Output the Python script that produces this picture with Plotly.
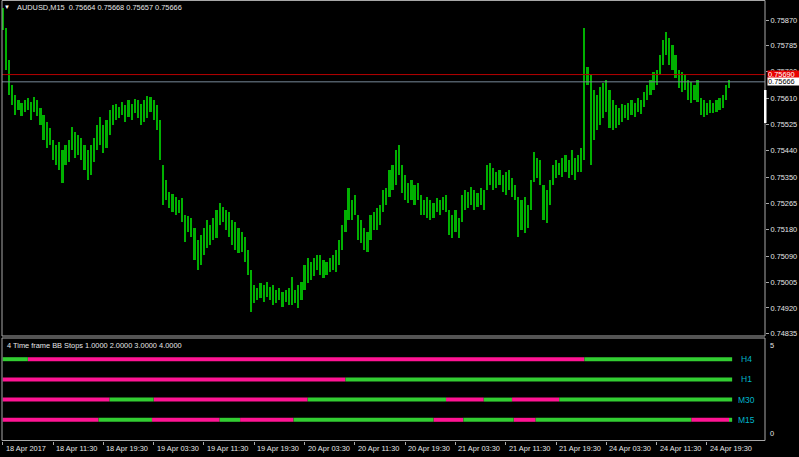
import plotly.graph_objects as go

# ---------------- data ----------------
symbol_title = "AUDUSD,M15  0.75664 0.75668 0.75657 0.75666"
indicator_title = "4 Time frame BB Stops 1.0000 2.0000 3.0000 4.0000"

# one bar per 30 minutes (2 x M15), x in M15-bar index units
high = [
0.75910,0.75844,0.75738,0.75656,0.75623,0.75606,0.75596,0.75606,0.75613,0.75599,
0.75616,0.75606,0.75580,0.75557,0.75533,0.75514,0.75474,0.75458,0.75467,0.75441,
0.75458,0.75474,0.75517,0.75500,0.75491,0.75481,0.75458,0.75441,0.75458,0.75481,
0.75524,0.75550,0.75524,0.75540,0.75573,0.75590,0.75593,0.75583,0.75599,0.75590,
0.75606,0.75593,0.75609,0.75606,0.75593,0.75606,0.75619,0.75616,0.75606,0.75590,
0.75540,0.75392,0.75342,0.75302,0.75296,0.75286,0.75276,0.75283,0.75227,0.75223,
0.75217,0.75184,0.75144,0.75161,0.75184,0.75210,0.75194,0.75217,0.75243,0.75266,
0.75253,0.75243,0.75236,0.75210,0.75203,0.75184,0.75170,0.75154,0.75111,0.75045,
0.74996,0.74986,0.75002,0.74996,0.75005,0.74989,0.74996,0.74979,0.74986,0.74972,
0.74979,0.74986,0.75022,0.74979,0.74996,0.75005,0.75062,0.75085,0.75071,0.75085,
0.75095,0.75095,0.75078,0.75071,0.75085,0.75095,0.75111,0.75144,0.75194,0.75243,
0.75316,0.75276,0.75293,0.75227,0.75210,0.75184,0.75170,0.75227,0.75236,0.75250,
0.75260,0.75309,0.75316,0.75375,0.75392,0.75441,0.75458,0.75392,0.75359,0.75332,
0.75342,0.75326,0.75332,0.75293,0.75276,0.75286,0.75276,0.75266,0.75283,0.75276,
0.75286,0.75293,0.75243,0.75227,0.75243,0.75217,0.75293,0.75309,0.75302,0.75319,
0.75309,0.75299,0.75316,0.75309,0.75392,0.75398,0.75382,0.75368,0.75375,0.75359,
0.75368,0.75375,0.75349,0.75326,0.75286,0.75276,0.75286,0.75260,0.75342,0.75434,
0.75415,0.75408,0.75326,0.75309,0.75342,0.75392,0.75408,0.75398,0.75415,0.75425,
0.75408,0.75441,0.75415,0.75425,0.75448,0.75844,0.75715,0.75689,0.75639,0.75623,
0.75649,0.75662,0.75672,0.75639,0.75606,0.75590,0.75580,0.75593,0.75590,0.75596,
0.75606,0.75596,0.75613,0.75606,0.75632,0.75656,0.75672,0.75698,0.75705,0.75755,
0.75804,0.75830,0.75811,0.75788,0.75755,0.75705,0.75698,0.75689,0.75672,0.75665,
0.75656,0.75672,0.75613,0.75606,0.75596,0.75606,0.75596,0.75606,0.75613,0.75623,
0.75656,0.75672]

low = [
0.75837,0.75705,0.75623,0.75590,0.75557,0.75573,0.75553,0.75566,0.75573,0.75540,
0.75566,0.75553,0.75524,0.75474,0.75448,0.75458,0.75408,0.75392,0.75375,0.75332,
0.75392,0.75401,0.75441,0.75415,0.75425,0.75408,0.75375,0.75342,0.75359,0.75401,
0.75441,0.75458,0.75431,0.75448,0.75491,0.75524,0.75540,0.75547,0.75557,0.75533,
0.75550,0.75540,0.75563,0.75547,0.75524,0.75533,0.75547,0.75566,0.75540,0.75507,
0.75408,0.75260,0.75276,0.75250,0.75236,0.75227,0.75233,0.75203,0.75137,0.75170,
0.75154,0.75078,0.75045,0.75062,0.75095,0.75118,0.75128,0.75144,0.75151,0.75194,
0.75203,0.75177,0.75154,0.75128,0.75111,0.75101,0.75104,0.75071,0.75029,0.74906,
0.74936,0.74946,0.74953,0.74939,0.74956,0.74946,0.74930,0.74936,0.74946,0.74923,
0.74939,0.74930,0.74930,0.74936,0.74920,0.74946,0.74979,0.75002,0.75012,0.75025,
0.75045,0.75029,0.75019,0.75029,0.75038,0.75045,0.75038,0.75062,0.75111,0.75170,
0.75210,0.75210,0.75227,0.75144,0.75134,0.75111,0.75104,0.75144,0.75177,0.75177,
0.75194,0.75236,0.75260,0.75286,0.75309,0.75326,0.75359,0.75299,0.75276,0.75266,
0.75276,0.75260,0.75276,0.75227,0.75227,0.75217,0.75210,0.75217,0.75236,0.75227,
0.75243,0.75236,0.75161,0.75151,0.75170,0.75151,0.75203,0.75243,0.75250,0.75260,
0.75243,0.75253,0.75260,0.75243,0.75309,0.75326,0.75309,0.75316,0.75326,0.75302,
0.75293,0.75309,0.75286,0.75276,0.75154,0.75177,0.75167,0.75184,0.75243,0.75335,
0.75349,0.75326,0.75210,0.75200,0.75260,0.75326,0.75349,0.75359,0.75352,0.75368,
0.75349,0.75359,0.75342,0.75368,0.75368,0.75408,0.75656,0.75392,0.75474,0.75507,
0.75524,0.75547,0.75566,0.75514,0.75507,0.75514,0.75524,0.75533,0.75547,0.75540,
0.75557,0.75550,0.75566,0.75560,0.75583,0.75606,0.75623,0.75639,0.75656,0.75689,
0.75722,0.75755,0.75722,0.75705,0.75679,0.75646,0.75632,0.75639,0.75606,0.75596,
0.75606,0.75599,0.75557,0.75550,0.75557,0.75563,0.75563,0.75566,0.75573,0.75580,
0.75606,0.75646]

bar_step = 2  # each plotted bar spans two M15 bars
bar_x = [i * bar_step for i in range(len(high))]

red_line_price = 0.75690
bid_price = 0.75666

price_ticks = [0.75870, 0.75785, 0.75700, 0.75610, 0.75525, 0.75440, 0.75350,
               0.75265, 0.75180, 0.75090, 0.75005, 0.74920, 0.74835]

time_tick_index = [0, 32, 64, 96, 128, 160, 192, 224, 256, 288, 320, 352, 384, 416, 448]
time_tick_labels = ["18 Apr 2017", "18 Apr 11:30", "18 Apr 19:30", "19 Apr 03:30",
                    "19 Apr 11:30", "19 Apr 19:30", "20 Apr 03:30", "20 Apr 11:30",
                    "20 Apr 19:30", "21 Apr 03:30", "21 Apr 11:30", "21 Apr 19:30",
                    "24 Apr 03:30", "24 Apr 11:30", "24 Apr 19:30"]

tf_names = ["H4", "H1", "M30", "M15"]
tf_levels = [4, 3, 2, 1]
tf_breaks = [
    [0, 16, 370, 464],
    [0, 218, 464],
    [0, 68, 96, 194, 282, 306, 324, 354, 464],
    [0, 61, 95, 138, 151, 185, 274, 293, 325, 339, 438, 462, 464],
]
tf_states = [
    ["up", "dn", "up"],
    ["dn", "up"],
    ["dn", "up", "dn", "up", "dn", "up", "dn", "up"],
    ["dn", "up", "dn", "up", "dn", "up", "dn", "up", "dn", "up", "dn", "up"],
]

# ---------------- styling ----------------
W, H = 799, 457
PLOT_H = 441
FONT = "Liberation Sans"
TXT = "#e6e6e6"
BORDER = "#a8a8a8"
BAR_COLOR = "#00b000"
UP_COLOR = "#32cd32"
DN_COLOR = "#ff1493"
TF_COLOR = "#00b4c8"

x_range = [-0.45, 484.9]
main_range = [0.748274, 0.75936]
ind_range = [-0.0495, 5.0495]


def py(px):  # pixel row -> paper y
    return 1 - px / PLOT_H


def pxx(px):  # pixel column -> paper x
    return (px - 2) / 763


fig = go.Figure()

fig.add_trace(go.Bar(
    x=bar_x, y=[h - l for h, l in zip(high, low)], base=low,
    width=1.4, marker=dict(color=BAR_COLOR, line=dict(width=0)),
    xaxis="x", yaxis="y", hoverinfo="skip", showlegend=False))

for state, color in (("dn", DN_COLOR), ("up", UP_COLOR)):
    xs, ys = [], []
    for brk, sts, lvl in zip(tf_breaks, tf_states, tf_levels):
        for i, s in enumerate(sts):
            if s == state:
                xs += [brk[i], brk[i + 1], None]
                ys += [lvl, lvl, None]
    fig.add_trace(go.Scatter(x=xs, y=ys, mode="lines", line=dict(color=color, width=4),
                             xaxis="x2", yaxis="y2", hoverinfo="skip", showlegend=False,
                             connectgaps=False))

shapes = [
    dict(type="line", xref="paper", yref="y", x0=0, x1=1, y0=red_line_price, y1=red_line_price,
         line=dict(color="#b40000", width=1)),
    dict(type="line", xref="paper", yref="y", x0=0, x1=1, y0=bid_price, y1=bid_price,
         line=dict(color="#778899", width=1)),
    dict(type="rect", xref="paper", yref="paper", x0=0, x1=1, y0=py(336), y1=py(0.5),
         line=dict(color=BORDER, width=1), fillcolor="rgba(0,0,0,0)"),
    dict(type="rect", xref="paper", yref="paper", x0=0, x1=1, y0=py(440.5), y1=py(338),
         line=dict(color=BORDER, width=1), fillcolor="rgba(0,0,0,0)"),
    dict(type="rect", xref="paper", yref="paper", x0=pxx(764), x1=pxx(766.5), y0=py(123), y1=py(90),
         line=dict(width=0), fillcolor="#ffffff"),
]

ann = []
ann.append(dict(text="▼", xref="paper", yref="paper", x=pxx(7), y=py(7), xanchor="center",
                yanchor="middle", showarrow=False, font=dict(family=FONT, size=6, color="#ffffff")))
ann.append(dict(text=symbol_title, xref="paper", yref="paper", x=pxx(15), y=py(7.5), xanchor="left",
                yanchor="middle", showarrow=False, font=dict(family=FONT, size=7.4, color=TXT)))
ann.append(dict(text=indicator_title, xref="paper", yref="paper", x=pxx(5), y=py(345.7), xanchor="left",
                yanchor="middle", showarrow=False, font=dict(family=FONT, size=7.4, color=TXT)))
for name, lvl in zip(tf_names, tf_levels):
    ann.append(dict(text=name, xref="x2", yref="y2", x=473, y=lvl, xanchor="center", yanchor="middle",
                    showarrow=False, font=dict(family=FONT, size=8.5, color=TF_COLOR)))
ann.append(dict(text="5", xref="paper", yref="y2", x=pxx(768), y=5, xanchor="left", yanchor="top",
                showarrow=False, font=dict(family=FONT, size=7.4, color=TXT)))
ann.append(dict(text="0", xref="paper", yref="y2", x=pxx(768), y=0, xanchor="left", yanchor="bottom",
                showarrow=False, font=dict(family=FONT, size=7.4, color=TXT)))
for xi, lab in zip(time_tick_index, time_tick_labels):
    ann.append(dict(text=lab, xref="x2", yref="paper", x=xi, y=py(448), xanchor="left", yanchor="middle",
                    xshift=1, showarrow=False, font=dict(family=FONT, size=7.4, color=TXT)))
ann.append(dict(text="%.5f" % red_line_price, xref="paper", yref="y", x=pxx(766.5), y=red_line_price,
                xanchor="left", yanchor="middle", showarrow=False, bgcolor="#e80000", borderpad=0,
                width=33, height=7, align="left", font=dict(family=FONT, size=7.4, color="#ffffff")))
ann.append(dict(text="%.5f" % bid_price, xref="paper", yref="y", x=pxx(766.5), y=bid_price,
                xanchor="left", yanchor="middle", showarrow=False, bgcolor="#ffffff", borderpad=0,
                width=33, height=7, align="left", font=dict(family=FONT, size=7.4, color="#000000")))

fig.update_layout(
    width=W, height=H,
    margin=dict(l=2, r=34, t=0, b=16, pad=0),
    paper_bgcolor="#000000", plot_bgcolor="#000000",
    showlegend=False, bargap=0,
    xaxis=dict(domain=[0, 1], range=x_range, anchor="y", showgrid=False, zeroline=False,
               showticklabels=False, ticks="", showline=False, fixedrange=True),
    yaxis=dict(domain=[py(336), 1], range=main_range, anchor="x", side="right",
               tickvals=price_ticks, ticktext=["%.5f" % v for v in price_ticks],
               ticks="outside", ticklen=3, tickcolor=BORDER, tickwidth=1,
               tickfont=dict(family=FONT, size=7.4, color=TXT),
               showgrid=False, zeroline=False, showline=False),
    xaxis2=dict(domain=[0, 1], range=x_range, anchor="y2", showgrid=False, zeroline=False,
                tickvals=time_tick_index, ticks="outside", ticklen=3, tickcolor=BORDER,
                showticklabels=False, showline=False),
    yaxis2=dict(domain=[0, py(338)], range=ind_range, anchor="x2", side="right",
                showgrid=False, zeroline=False, showticklabels=False, ticks="", showline=False),
    shapes=shapes, annotations=ann,
)

fig.write_html("out.html", config={"displayModeBar": False},
               post_script="document.body.style.margin='0';document.body.style.background='#000';")
